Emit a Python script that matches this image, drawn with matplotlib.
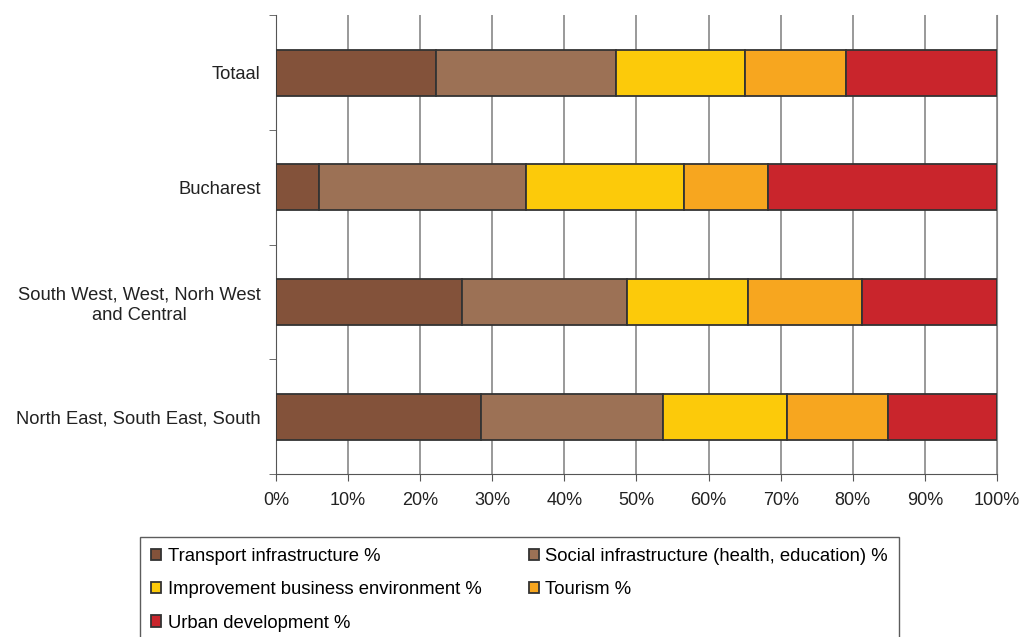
import numpy as np
import matplotlib
matplotlib.use("Agg")
from matplotlib import pyplot as plt

plt.rcParams['font.family'] = ['Liberation Sans', 'DejaVu Sans']

regions = ["Totaal", "Bucharest", "South West, West, Norh West\nand Central",
           "North East, South East, South"]

transport = [22.2, 6.0, 25.8, 28.4]
social = [25.0, 28.7, 22.9, 25.3]
business = [17.8, 21.9, 16.8, 17.2]
tourism = [14.1, 11.6, 15.8, 14.0]
urban = [20.9, 31.8, 18.7, 15.1]

series = [
    ("Transport infrastructure %", transport, "#83523A"),
    ("Social infrastructure (health, education) %", social, "#9C7155"),
    ("Improvement business environment %", business, "#FCCA0A"),
    ("Tourism %", tourism, "#F7A61F"),
    ("Urban development %", urban, "#C9252C"),
]

fig = plt.figure(figsize=(10.22, 6.37), dpi=100)
ax = fig.add_axes([0.270, 0.256, 0.7055, 0.72])

y = np.arange(len(regions))
left = np.zeros(len(regions))
handles = []
for name, vals, col in series:
    vals = np.array(vals)
    b = ax.barh(y, vals / 100.0, left=left / 100.0, height=0.4, color=col,
                edgecolor="#333333", linewidth=1.3, label=name, zorder=3)
    handles.append(b)
    left += vals

ax.set_xlim(0, 1)
ax.set_ylim(3.5, -0.5)
ax.set_xticks(np.linspace(0, 1, 11))
ax.set_xticklabels([f"{i}%" for i in range(0, 101, 10)], fontsize=13, color="#222222")
ax.set_yticks(y)
ax.set_yticklabels(regions, fontsize=13.2, color="#222222", multialignment='center')
ax.set_yticks(np.arange(-0.5, 4, 1), minor=True)
ax.tick_params(axis='y', which='major', length=0, pad=11)
ax.tick_params(axis='y', which='minor', length=5, color="#555555")
ax.tick_params(axis='x', length=5, color="#555555", pad=8)
ax.grid(axis='x', color="#888888", linewidth=1.2, zorder=0)

ax.spines['top'].set_visible(False)
ax.spines['right'].set_color("#888888")
ax.spines['left'].set_color("#555555")
ax.spines['bottom'].set_color("#555555")

order = [0, 2, 4, 1, 3]
leg = fig.legend([handles[i] for i in order], [series[i][0] for i in order],
                 ncol=2, loc='upper left', bbox_to_anchor=(0.137, 0.157),
                 frameon=True, fancybox=False, fontsize=13.3, handlelength=0.55,
                 handleheight=0.55, handletextpad=0.35, columnspacing=2.55,
                 labelspacing=0.88, borderpad=0.6, borderaxespad=0)
leg.get_frame().set_edgecolor("#333333")
leg.get_frame().set_linewidth(1.0)

fig.savefig("out.png", dpi=100)
